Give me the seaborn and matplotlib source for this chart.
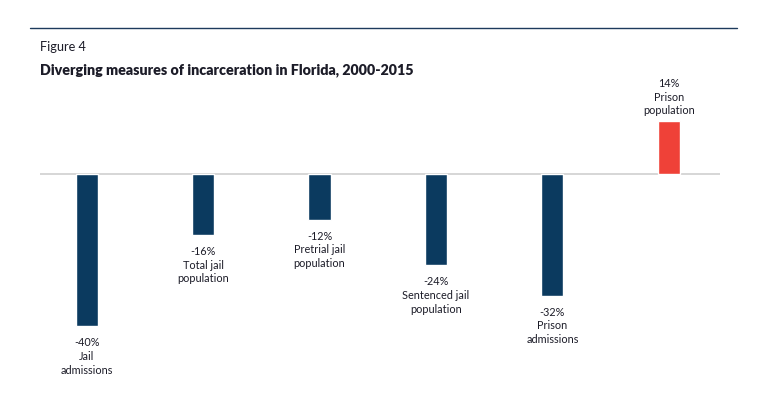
import matplotlib
matplotlib.use("Agg")
import matplotlib.pyplot as plt
import seaborn as sns

categories = ["Jail\nadmissions", "Total jail\npopulation", "Pretrial jail\npopulation",
              "Sentenced jail\npopulation", "Prison\nadmissions", "Prison\npopulation"]
changes = [-40, -16, -12, -24, -32, 14]
value_labels = ["-40%", "-16%", "-12%", "-24%", "-32%", "14%"]

NAVY = "#0b3a5f"
RED = "#ef4138"
TEXT = "#1c1c28"

sns.set_style("white")
plt.rcParams["font.family"] = ["Lato", "DejaVu Sans"]

W, H = 759, 397
fig = plt.figure(figsize=(W / 100, H / 100), dpi=100)

# axes placed in pixel coords: x 40..720, y 100..390 (from top)
ax = fig.add_axes([40 / W, 1 - 390 / H, 680 / W, 290 / H])
colors = [RED if v > 0 else NAVY for v in changes]
sns.barplot(x=categories, y=changes, hue=categories, palette=colors,
            legend=False, width=0.19, ax=ax, saturation=1)
ax.set_xlim(-0.40, 5.44)
ax.set_ylim(-56.8, 19.5)
ax.axhline(0, color="#cfcfcf", lw=1.2, zorder=0)
ax.axis("off")

for i, (cat, v, lab) in enumerate(zip(categories, changes, value_labels)):
    txt = lab + "\n" + cat
    if v < 0:
        ax.annotate(txt, xy=(i, v), xytext=(0, -11), textcoords="offset pixels",
                    ha="center", va="top", fontsize=7.8, color=TEXT, linespacing=1.3)
    else:
        ax.annotate(txt, xy=(i, v), xytext=(0, 5), textcoords="offset pixels",
                    ha="center", va="bottom", fontsize=7.8, color=TEXT, linespacing=1.25)

# header rule and titles
fig.add_artist(plt.Line2D([30 / W, 737 / W], [1 - 28 / H, 1 - 28 / H],
                          color="#1d3a5c", lw=1.0))
fig.text(40 / W, 1 - 47 / H, "Figure 4", fontsize=9.2, color=TEXT, va="center")
fig.text(40 / W, 1 - 70 / H, "Diverging measures of incarceration in Florida, 2000-2015",
         fontsize=10.3, fontweight="heavy", color=TEXT, va="center")

fig.savefig("out.png", dpi=100)
